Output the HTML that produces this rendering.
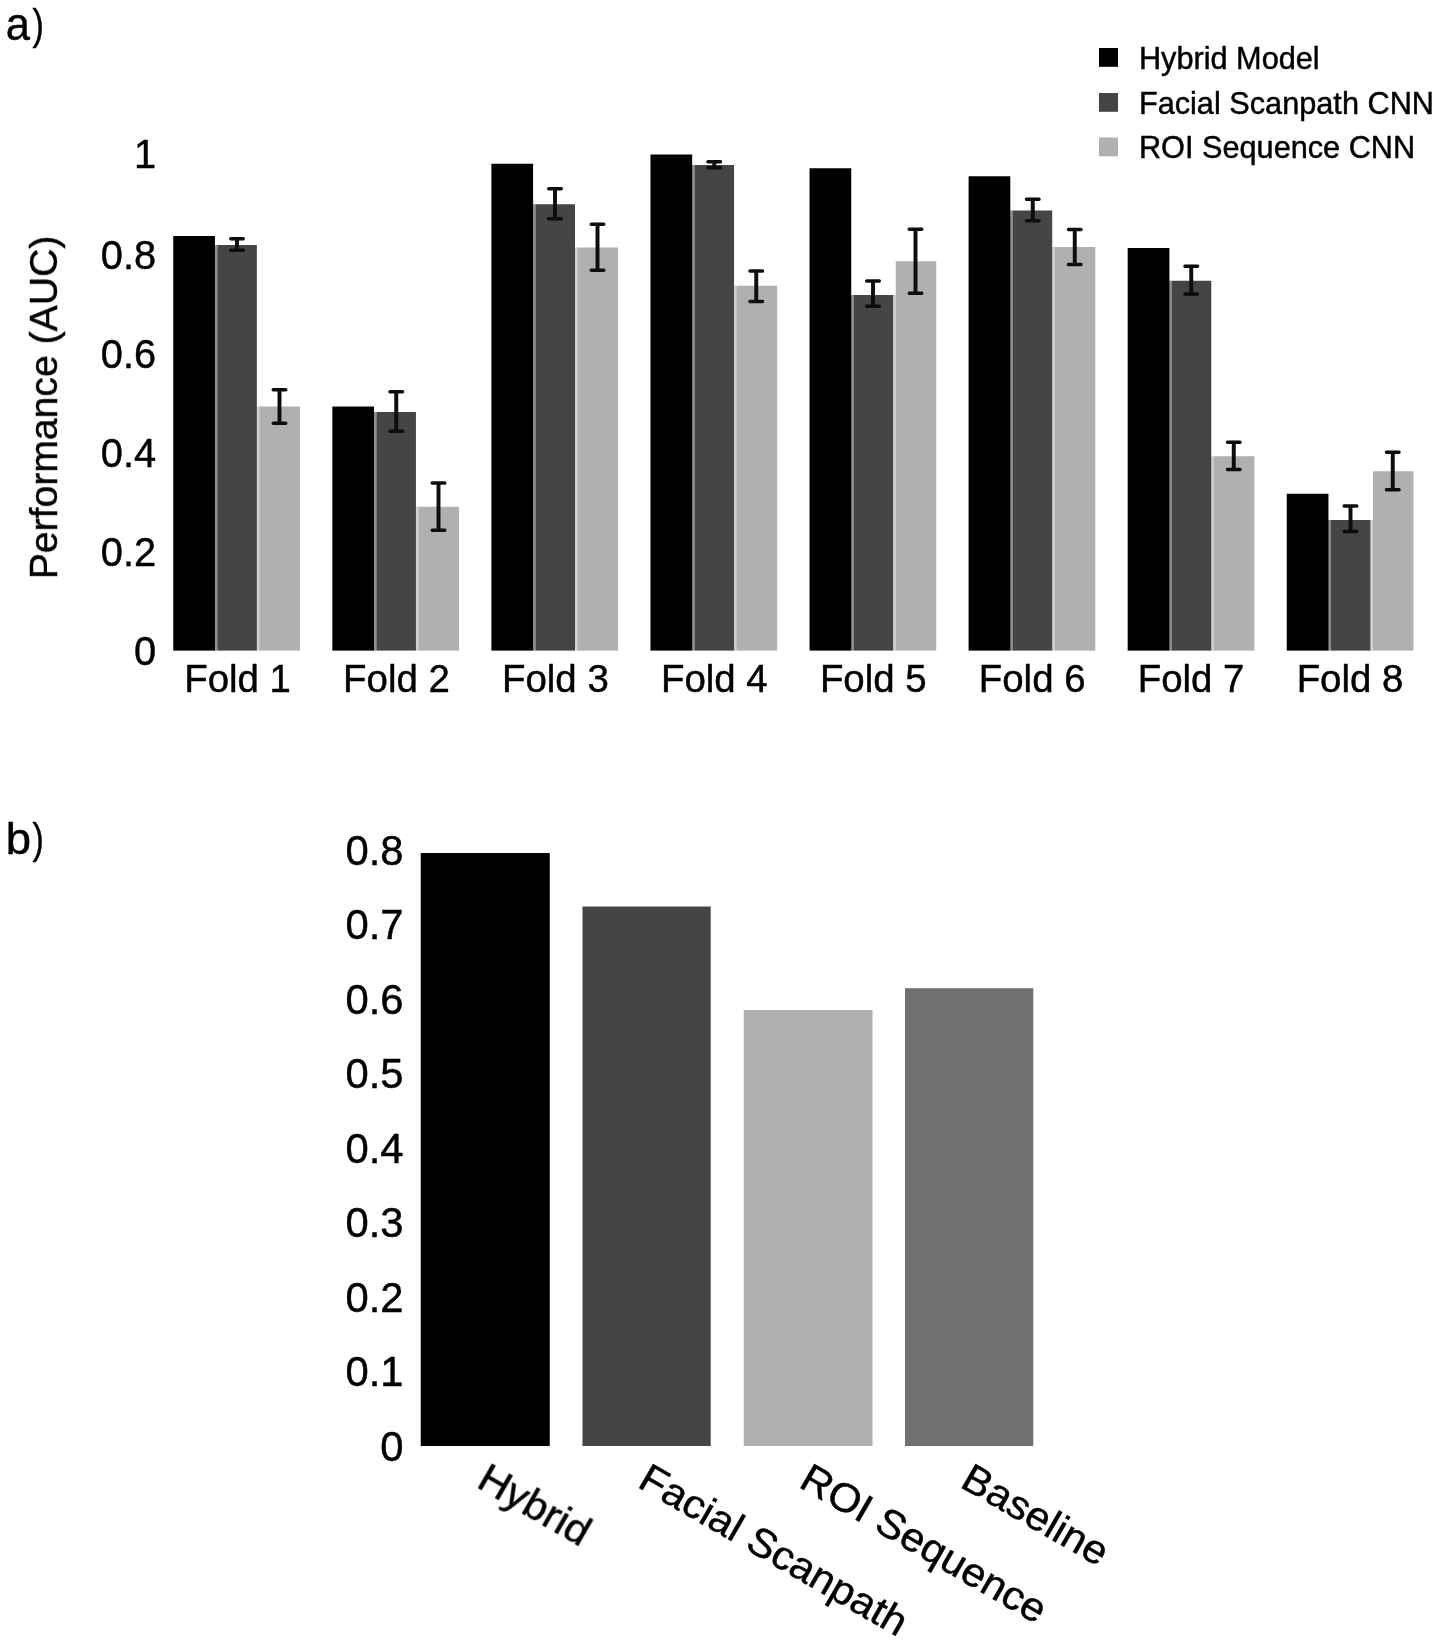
<!DOCTYPE html>
<html><head><meta charset="utf-8"><title>Figure</title>
<style>html,body{margin:0;padding:0;background:#fff;}body{width:1441px;height:1644px;overflow:hidden;font-family:"Liberation Sans",sans-serif;}svg{display:block;}text{font-family:"Liberation Sans",sans-serif;fill:#000;stroke:#000;stroke-width:0.45px;stroke-linejoin:round;}</style>
</head><body>
<svg width="1441" height="1644" viewBox="0 0 1441 1644">
<defs><filter id="soft" x="0" y="0" width="100%" height="100%" filterUnits="userSpaceOnUse"><feGaussianBlur stdDeviation="0.45"/></filter></defs>
<rect x="0" y="0" width="1441" height="1644" fill="#ffffff"/>
<g filter="url(#soft)">
<text transform="translate(5.7 40.00) scale(0.950 1)" font-size="45.8" stroke="#000" stroke-width="0.5">a</text>
<text transform="translate(32.6 39.00) scale(0.80 1)" font-size="42.5" stroke="#000" stroke-width="0.5">)</text>
<text transform="translate(5.7 853.90) scale(1.030 1)" font-size="44.2" stroke="#000" stroke-width="0.5">b</text>
<text transform="translate(32.6 852.90) scale(0.80 1)" font-size="42.5" stroke="#000" stroke-width="0.5">)</text>
<g id="chartA">
<rect x="214.45" y="245.00" width="3.00" height="405.60" fill="#909090"/>
<rect x="256.45" y="406.50" width="3.40" height="244.10" fill="#d2d2d2"/>
<rect x="173.25" y="236.00" width="41.70" height="414.60" fill="#000000"/>
<rect x="217.35" y="245.00" width="39.50" height="405.60" fill="#444444"/>
<rect x="259.45" y="406.50" width="40.50" height="244.10" fill="#b0b0b0"/>
<rect x="373.52" y="412.00" width="3.00" height="238.60" fill="#909090"/>
<rect x="415.52" y="506.75" width="3.40" height="143.85" fill="#d2d2d2"/>
<rect x="332.32" y="406.50" width="41.70" height="244.10" fill="#000000"/>
<rect x="376.42" y="412.00" width="39.50" height="238.60" fill="#444444"/>
<rect x="418.52" y="506.75" width="40.50" height="143.85" fill="#b0b0b0"/>
<rect x="532.59" y="204.25" width="3.00" height="446.35" fill="#909090"/>
<rect x="574.59" y="247.50" width="3.40" height="403.10" fill="#d2d2d2"/>
<rect x="491.39" y="163.75" width="41.70" height="486.85" fill="#000000"/>
<rect x="535.49" y="204.25" width="39.50" height="446.35" fill="#444444"/>
<rect x="577.59" y="247.50" width="40.50" height="403.10" fill="#b0b0b0"/>
<rect x="691.66" y="165.00" width="3.00" height="485.60" fill="#909090"/>
<rect x="733.66" y="285.75" width="3.40" height="364.85" fill="#d2d2d2"/>
<rect x="650.46" y="154.50" width="41.70" height="496.10" fill="#000000"/>
<rect x="694.56" y="165.00" width="39.50" height="485.60" fill="#444444"/>
<rect x="736.66" y="285.75" width="40.50" height="364.85" fill="#b0b0b0"/>
<rect x="850.73" y="295.00" width="3.00" height="355.60" fill="#909090"/>
<rect x="892.73" y="295.00" width="3.40" height="355.60" fill="#d2d2d2"/>
<rect x="809.53" y="168.25" width="41.70" height="482.35" fill="#000000"/>
<rect x="853.63" y="295.00" width="39.50" height="355.60" fill="#444444"/>
<rect x="895.73" y="261.25" width="40.50" height="389.35" fill="#b0b0b0"/>
<rect x="1009.80" y="210.50" width="3.00" height="440.10" fill="#909090"/>
<rect x="1051.80" y="247.00" width="3.40" height="403.60" fill="#d2d2d2"/>
<rect x="968.60" y="176.25" width="41.70" height="474.35" fill="#000000"/>
<rect x="1012.70" y="210.50" width="39.50" height="440.10" fill="#444444"/>
<rect x="1054.80" y="247.00" width="40.50" height="403.60" fill="#b0b0b0"/>
<rect x="1168.87" y="280.75" width="3.00" height="369.85" fill="#909090"/>
<rect x="1210.87" y="456.25" width="3.40" height="194.35" fill="#d2d2d2"/>
<rect x="1127.67" y="248.00" width="41.70" height="402.60" fill="#000000"/>
<rect x="1171.77" y="280.75" width="39.50" height="369.85" fill="#444444"/>
<rect x="1213.87" y="456.25" width="40.50" height="194.35" fill="#b0b0b0"/>
<rect x="1327.94" y="520.00" width="3.00" height="130.60" fill="#909090"/>
<rect x="1369.94" y="520.00" width="3.40" height="130.60" fill="#d2d2d2"/>
<rect x="1286.74" y="493.75" width="41.70" height="156.85" fill="#000000"/>
<rect x="1330.84" y="520.00" width="39.50" height="130.60" fill="#444444"/>
<rect x="1372.94" y="471.25" width="40.50" height="179.35" fill="#b0b0b0"/>
<path d="M237.00 238.00V251.00" stroke="#0a0a0a" stroke-width="3.9" fill="none"/>
<path d="M230.70 238.70H243.30M230.70 250.30H243.30" stroke="#0a0a0a" stroke-width="3.4" fill="none" stroke-linecap="round"/>
<path d="M279.50 389.00V424.00" stroke="#0a0a0a" stroke-width="3.9" fill="none"/>
<path d="M273.20 389.70H285.80M273.20 423.30H285.80" stroke="#0a0a0a" stroke-width="3.4" fill="none" stroke-linecap="round"/>
<path d="M396.25 391.00V432.00" stroke="#0a0a0a" stroke-width="3.9" fill="none"/>
<path d="M389.95 391.70H402.55M389.95 431.30H402.55" stroke="#0a0a0a" stroke-width="3.4" fill="none" stroke-linecap="round"/>
<path d="M438.50 482.25V531.00" stroke="#0a0a0a" stroke-width="3.9" fill="none"/>
<path d="M432.20 482.95H444.80M432.20 530.30H444.80" stroke="#0a0a0a" stroke-width="3.4" fill="none" stroke-linecap="round"/>
<path d="M555.00 188.00V219.50" stroke="#0a0a0a" stroke-width="3.9" fill="none"/>
<path d="M548.70 188.70H561.30M548.70 218.80H561.30" stroke="#0a0a0a" stroke-width="3.4" fill="none" stroke-linecap="round"/>
<path d="M597.50 223.50V271.00" stroke="#0a0a0a" stroke-width="3.9" fill="none"/>
<path d="M591.20 224.20H603.80M591.20 270.30H603.80" stroke="#0a0a0a" stroke-width="3.4" fill="none" stroke-linecap="round"/>
<path d="M714.25 161.00V168.50" stroke="#0a0a0a" stroke-width="3.9" fill="none"/>
<path d="M707.95 161.70H720.55M707.95 167.80H720.55" stroke="#0a0a0a" stroke-width="3.4" fill="none" stroke-linecap="round"/>
<path d="M756.25 270.25V302.25" stroke="#0a0a0a" stroke-width="3.9" fill="none"/>
<path d="M749.95 270.95H762.55M749.95 301.55H762.55" stroke="#0a0a0a" stroke-width="3.4" fill="none" stroke-linecap="round"/>
<path d="M873.00 280.25V307.00" stroke="#0a0a0a" stroke-width="3.9" fill="none"/>
<path d="M866.70 280.95H879.30M866.70 306.30H879.30" stroke="#0a0a0a" stroke-width="3.4" fill="none" stroke-linecap="round"/>
<path d="M915.50 228.50V294.00" stroke="#0a0a0a" stroke-width="3.9" fill="none"/>
<path d="M909.20 229.20H921.80M909.20 293.30H921.80" stroke="#0a0a0a" stroke-width="3.4" fill="none" stroke-linecap="round"/>
<path d="M1032.75 198.50V221.50" stroke="#0a0a0a" stroke-width="3.9" fill="none"/>
<path d="M1026.45 199.20H1039.05M1026.45 220.80H1039.05" stroke="#0a0a0a" stroke-width="3.4" fill="none" stroke-linecap="round"/>
<path d="M1074.75 228.75V265.25" stroke="#0a0a0a" stroke-width="3.9" fill="none"/>
<path d="M1068.45 229.45H1081.05M1068.45 264.55H1081.05" stroke="#0a0a0a" stroke-width="3.4" fill="none" stroke-linecap="round"/>
<path d="M1191.25 265.50V294.75" stroke="#0a0a0a" stroke-width="3.9" fill="none"/>
<path d="M1184.95 266.20H1197.55M1184.95 294.05H1197.55" stroke="#0a0a0a" stroke-width="3.4" fill="none" stroke-linecap="round"/>
<path d="M1233.75 441.50V470.25" stroke="#0a0a0a" stroke-width="3.9" fill="none"/>
<path d="M1227.45 442.20H1240.05M1227.45 469.55H1240.05" stroke="#0a0a0a" stroke-width="3.4" fill="none" stroke-linecap="round"/>
<path d="M1350.50 505.25V532.25" stroke="#0a0a0a" stroke-width="3.9" fill="none"/>
<path d="M1344.20 505.95H1356.80M1344.20 531.55H1356.80" stroke="#0a0a0a" stroke-width="3.4" fill="none" stroke-linecap="round"/>
<path d="M1392.75 451.50V490.50" stroke="#0a0a0a" stroke-width="3.9" fill="none"/>
<path d="M1386.45 452.20H1399.05M1386.45 489.80H1399.05" stroke="#0a0a0a" stroke-width="3.4" fill="none" stroke-linecap="round"/>
<text x="237.55" y="692" font-size="38.4" text-anchor="middle">Fold 1</text>
<text x="396.47" y="692" font-size="38.4" text-anchor="middle">Fold 2</text>
<text x="555.39" y="692" font-size="38.4" text-anchor="middle">Fold 3</text>
<text x="714.31" y="692" font-size="38.4" text-anchor="middle">Fold 4</text>
<text x="873.23" y="692" font-size="38.4" text-anchor="middle">Fold 5</text>
<text x="1032.15" y="692" font-size="38.4" text-anchor="middle">Fold 6</text>
<text x="1191.07" y="692" font-size="38.4" text-anchor="middle">Fold 7</text>
<text x="1349.99" y="692" font-size="38.4" text-anchor="middle">Fold 8</text>
<text x="156.2" y="168.10" font-size="39.8" text-anchor="end">1</text>
<text x="156.2" y="268.50" font-size="39.8" text-anchor="end">0.8</text>
<text x="156.2" y="367.65" font-size="39.8" text-anchor="end">0.6</text>
<text x="156.2" y="466.85" font-size="39.8" text-anchor="end">0.4</text>
<text x="156.2" y="566.00" font-size="39.8" text-anchor="end">0.2</text>
<text x="156.2" y="665.15" font-size="39.8" text-anchor="end">0</text>
<text transform="translate(57.0 579.2) rotate(-90) scale(0.988 1)" font-size="39.6">Performance (AUC)</text>
<rect x="1099" y="48.00" width="19" height="18.8" fill="#000000"/>
<text x="1138.9" y="68.75" font-size="30.7">Hybrid Model</text>
<rect x="1099" y="93.00" width="19" height="18.8" fill="#444444"/>
<text x="1138.9" y="113.50" font-size="30.7">Facial Scanpath CNN</text>
<rect x="1099" y="137.50" width="19" height="18.8" fill="#b0b0b0"/>
<text x="1138.9" y="158.00" font-size="30.7">ROI Sequence CNN</text>
</g>
<g id="chartB">
<rect x="420.75" y="853.00" width="129.00" height="593.00" fill="#000000"/>
<rect x="582.50" y="906.50" width="128.20" height="539.50" fill="#444444"/>
<rect x="743.75" y="1010.00" width="128.70" height="436.00" fill="#b0b0b0"/>
<rect x="905.00" y="988.25" width="128.30" height="457.75" fill="#707070"/>
<text x="403.5" y="1460.50" font-size="41.8" text-anchor="end">0</text>
<text x="403.5" y="1386.00" font-size="41.8" text-anchor="end">0.1</text>
<text x="403.5" y="1311.50" font-size="41.8" text-anchor="end">0.2</text>
<text x="403.5" y="1237.00" font-size="41.8" text-anchor="end">0.3</text>
<text x="403.5" y="1162.50" font-size="41.8" text-anchor="end">0.4</text>
<text x="403.5" y="1088.00" font-size="41.8" text-anchor="end">0.5</text>
<text x="403.5" y="1013.50" font-size="41.8" text-anchor="end">0.6</text>
<text x="403.5" y="939.00" font-size="41.8" text-anchor="end">0.7</text>
<text x="403.5" y="864.50" font-size="41.8" text-anchor="end">0.8</text>
<text transform="translate(477.70 1487.8) rotate(30) scale(1.045 1)" font-size="40.3" x="-2.9">Hybrid</text>
<text transform="translate(638.95 1487.8) rotate(30) scale(1.045 1)" font-size="40.3" x="-2.9">Facial Scanpath</text>
<text transform="translate(800.20 1487.8) rotate(30) scale(1.045 1)" font-size="40.3" x="-2.9">ROI Sequence</text>
<text transform="translate(961.45 1487.8) rotate(30) scale(1.045 1)" font-size="40.3" x="-2.9">Baseline</text>
</g>
</g>
</svg>
</body></html>
